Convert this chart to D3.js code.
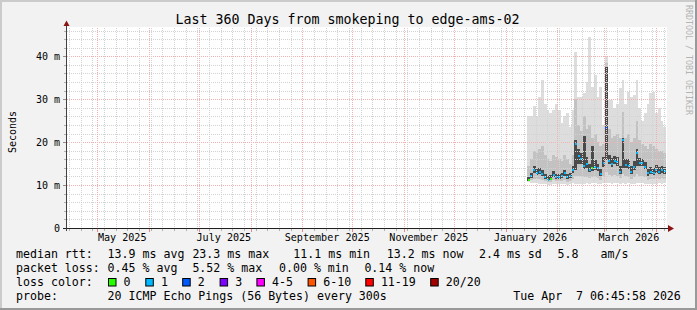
<!DOCTYPE html>
<html>
<head>
<meta charset="utf-8">
<script src="https://cdn.jsdelivr.net/npm/d3@7"></script>
<style>
  body { margin: 0; background: #fff; }
  svg { display: block; }
  text { font-family: 'DejaVu Sans Mono', monospace; fill: #000; white-space: pre; }
</style>
</head>
<body>
<div id="chart"></div>
<script>
// values (ms), one entry per 40h step starting 14 Jan 2026
const seriesStart = Date.UTC(2026, 0, 14, 0, 0, 0)
const stepHours = 40

const median = [11.1, 12.0, 13.5, 12.9, 13.1, 12.6, 11.8, 11.3, 11.5, 12.4, 11.8, 11.8, 12.1, 12.7, 11.8, 12.0, 13.4, 19.6, 16.8, 16.0, 14.5, 14.8, 13.5, 14.0, 14.3, 13.9, 12.6, 15.2, 23.3, 15.7, 14.9, 15.7, 15.3, 13.1, 20.4, 14.6, 14.5, 13.1, 14.2, 17.4, 15.1, 15.1, 14.3, 12.7, 13.1, 12.9, 13.5, 13.1, 13.5, 13.2]
const lossPct = [0, 0.3, 0.4, 0.2, 0.5, 0.3, 0.2, 0.3, 0, 0.2, 0.4, 0.3, 0.2, 0.3, 0.2, 0.4, 0.6, 1.8, 0.9, 0.5, 0.7, 0.4, 0.3, 0, 0.3, 0.2, 0.3, 0.5, 5.52, 0.6, 0.4, 0.3, 0.5, 0.2, 1.2, 0.4, 0.3, 0.2, 0.4, 0.9, 0.5, 0.3, 0.3, 0.2, 0.3, 0.4, 0.2, 0.3, 0.2, 0.14]
const pingMin = [10.8, 10.6, 10.5, 10.4, 10.3, 10.3, 10.2, 10.1, 10.1, 10.2, 10.3, 10.2, 10.2, 10.3, 10.1, 10.2, 10.4, 10.3, 10.2, 10.3, 10.2, 10.4, 10.3, 10.5, 10.4, 10.3, 10.2, 10.4, 10.5, 10.4, 10.3, 10.4, 10.5, 10.3, 10.4, 10.3, 10.4, 10.2, 10.3, 10.4, 10.5, 10.4, 10.3, 10.2, 10.3, 10.2, 10.3, 10.4, 10.3, 10.4]
const pingP10 = [10.9, 11.2, 11.5, 11.4, 11.5, 11.2, 10.9, 10.7, 10.8, 11.1, 10.9, 10.9, 11.0, 11.2, 10.8, 10.9, 11.4, 12.0, 12.2, 12.0, 11.8, 11.9, 11.6, 11.8, 11.8, 11.6, 11.2, 12.0, 13.0, 12.4, 12.0, 12.4, 12.2, 11.6, 12.5, 12.0, 11.9, 11.4, 11.9, 12.5, 12.2, 12.2, 11.8, 11.3, 11.5, 11.4, 11.7, 11.5, 11.7, 11.5]
const pingP30 = [11.0, 11.6, 12.9, 12.4, 12.6, 12.1, 11.4, 10.9, 11.1, 11.9, 11.4, 11.4, 11.7, 12.2, 11.4, 11.6, 12.8, 13.5, 15.0, 14.8, 13.8, 14.0, 13.0, 13.3, 13.6, 13.3, 12.1, 14.2, 15.8, 14.8, 14.2, 14.8, 14.5, 12.6, 14.0, 13.9, 13.8, 12.6, 13.6, 14.5, 14.4, 14.4, 13.7, 12.2, 12.6, 12.4, 12.9, 12.6, 12.9, 12.6]
const pingP70 = [11.8, 12.8, 14.5, 13.8, 14.0, 13.6, 12.6, 12.2, 12.3, 13.3, 12.6, 12.6, 12.9, 13.6, 12.6, 12.8, 14.5, 20.5, 18.5, 17.5, 21.4, 16.5, 15.0, 19.0, 15.8, 15.0, 13.8, 16.5, 37.5, 17.0, 16.2, 16.8, 16.5, 14.5, 21.0, 16.0, 16.0, 14.5, 15.5, 18.5, 16.2, 16.0, 15.3, 13.8, 14.2, 14.0, 14.6, 14.2, 14.5, 14.1]
const pingP90 = [14.5, 16.0, 18.0, 17.5, 18.5, 19.0, 17.0, 16.0, 15.5, 17.0, 16.5, 16.0, 15.5, 17.0, 16.0, 15.0, 17.0, 30.0, 24.0, 22.5, 26.0, 23.0, 24.0, 21.0, 22.0, 20.0, 19.0, 19.5, 38.5, 23.0, 21.0, 21.5, 22.0, 21.0, 27.0, 21.0, 22.0, 20.0, 21.0, 25.0, 20.5, 19.5, 19.0, 18.5, 19.5, 19.0, 18.5, 18.0, 18.0, 17.5]
const pingMax = [26.0, 26.0, 28.5, 26.0, 30.6, 34.5, 29.0, 27.5, 26.8, 27.5, 29.0, 27.5, 24.5, 26.0, 26.8, 23.6, 27.5, 41.1, 30.6, 30.6, 31.5, 34.1, 44.6, 32.9, 35.7, 30.6, 32.9, 24.0, 40.0, 29.8, 29.8, 28.0, 29.0, 32.6, 34.5, 29.0, 31.8, 30.6, 31.0, 34.5, 28.0, 25.0, 26.8, 29.0, 31.5, 31.8, 26.8, 28.0, 25.0, 23.6]

const yTicks = [0, 10, 20, 30, 40]
const yTickLabels = ['0', '10 m', '20 m', '30 m', '40 m']

const lossLabels = ['0', '1', '2', '3', '4-5', '6-10', '11-19', '20/20']
const lossUpper = [0, 1, 2, 3, 5, 10, 19, 20] // lost pings out of 20
const lossColors = ['#26ff00', '#00b8ff', '#0059ff', '#7e00ff', '#ff00ff', '#ff5500', '#ff0000', '#a10000']

const W = 697
const H = 310

const svg = d3
  .select('#chart')
  .append('svg')
  .attr('width', W)
  .attr('height', H)

// frame
svg.append('rect').attr('width', W).attr('height', H).attr('fill', '#f2f2f2')
svg.append('path').attr('d', `M0,0H${W}V2H2V${H}H0Z`).attr('fill', '#cbcbcb')
svg.append('path').attr('d', `M${W},${H}H0V${H - 2}H${W - 2}V0H${W}Z`).attr('fill', '#999999')

const tStart = new Date(Date.UTC(2025, 3, 12, 6, 45, 58))
const tEnd = new Date(Date.UTC(2026, 3, 7, 6, 45, 58))

const xPositionScale = d3.scaleUtc().domain([tStart, tEnd]).range([66, 666])
const yPositionScale = d3.scaleLinear().domain([0, 46.6]).range([228, 28])

// canvas
svg.append('rect')
  .attr('x', 66).attr('y', 27)
  .attr('width', 601).attr('height', 201)
  .attr('fill', '#ffffff')

const plot = svg.append('g')

// smoke
const points = median.map((m, i) => ({
  t0: new Date(seriesStart + i * stepHours * 3600e3),
  t1: new Date(seriesStart + (i + 1) * stepHours * 3600e3),
  med: m,
  loss: lossPct[i],
  bands: [
    [pingMin[i], pingMax[i], '#dddddd'],
    [pingP10[i], pingP90[i], '#c2c2c2'],
    [pingP30[i], pingP70[i], '#4a4a4a']
  ]
}))

points.forEach(function(d) {
  const x0 = xPositionScale(d.t0)
  const x1 = Math.min(xPositionScale(d.t1), 666)
  d.bands.forEach(function(b) {
    plot.append('rect')
      .attr('x', x0)
      .attr('width', x1 - x0)
      .attr('y', yPositionScale(b[1]))
      .attr('height', yPositionScale(b[0]) - yPositionScale(b[1]))
      .attr('fill', b[2])
      .attr('shape-rendering', 'crispEdges')
  })
})

function lossColor(pct) {
  const pings = pct / 100 * 20
  for (let k = 0; k < lossUpper.length; k++) {
    if (pings <= lossUpper[k]) return lossColors[k]
  }
  return lossColors[lossColors.length - 1]
}

plot.selectAll('.med')
  .data(points)
  .enter()
  .append('rect')
  .attr('class', 'med')
  .attr('x', d => Math.round((xPositionScale(d.t0) + xPositionScale(d.t1)) / 2) - 1)
  .attr('width', 2)
  .attr('y', d => Math.round(yPositionScale(d.med)) - 1)
  .attr('height', 2)
  .attr('fill', d => lossColor(d.loss))
  .attr('shape-rendering', 'crispEdges')

// grid (drawn over the data like rrdtool)
const grid = svg.append('g').attr('shape-rendering', 'crispEdges')
const minorCol = '#d2d2d2'
const majorCol = '#f3b0b0'
const minorY = d3.range(2, 47, 2).filter(v => v % 10 !== 0)
minorY.forEach(function(v) {
  const yy = Math.round(yPositionScale(v)) + 0.5
  grid.append('line').attr('x1', 67).attr('x2', 666).attr('y1', yy).attr('y2', yy)
    .attr('stroke', minorCol).attr('stroke-dasharray', '1,1')
  grid.append('line').attr('x1', 64).attr('x2', 66).attr('y1', yy).attr('y2', yy)
    .attr('stroke', '#b0b0b0')
})
yTicks.slice(1).forEach(function(v) {
  const yy = Math.round(yPositionScale(v)) + 0.5
  grid.append('line').attr('x1', 67).attr('x2', 666).attr('y1', yy).attr('y2', yy)
    .attr('stroke', majorCol).attr('stroke-dasharray', '1,1')
  grid.append('line').attr('x1', 63).attr('x2', 66).attr('y1', yy).attr('y2', yy)
    .attr('stroke', '#909090')
})

const weeks = d3.utcMonday.range(tStart, tEnd)
weeks.forEach(function(t) {
  const xx = Math.round(xPositionScale(t)) + 0.5
  grid.append('line').attr('x1', xx).attr('x2', xx).attr('y1', 28).attr('y2', 228)
    .attr('stroke', minorCol).attr('stroke-dasharray', '1,1')
  grid.append('line').attr('x1', xx).attr('x2', xx).attr('y1', 229).attr('y2', 231)
    .attr('stroke', '#b0b0b0')
})
const months = d3.utcMonth.range(tStart, tEnd)
months.forEach(function(t) {
  const xx = Math.round(xPositionScale(t)) + 0.5
  grid.append('line').attr('x1', xx).attr('x2', xx).attr('y1', 28).attr('y2', 228)
    .attr('stroke', majorCol).attr('stroke-dasharray', '1,1')
  grid.append('line').attr('x1', xx).attr('x2', xx).attr('y1', 229).attr('y2', 232)
    .attr('stroke', '#e08a8a')
})

// axes
svg.append('line').attr('x1', 63).attr('x2', 668).attr('y1', 228.5).attr('y2', 228.5)
  .attr('stroke', '#202020')
svg.append('line').attr('x1', 66.5).attr('x2', 66.5).attr('y1', 25).attr('y2', 231)
  .attr('stroke', '#404040')
svg.append('path').attr('d', 'M63.5,26L69.5,26L66.5,20.5Z').attr('fill', '#8b1414')
svg.append('path').attr('d', 'M668,225L668,232L674,228.5Z').attr('fill', '#8b1414')

// y labels
svg.selectAll('.ylab')
  .data(yTicks)
  .enter()
  .append('text')
  .attr('class', 'ylab')
  .attr('x', 60)
  .attr('y', d => yPositionScale(d) + 3.6)
  .attr('text-anchor', 'end')
  .attr('font-size', 10)
  .text((d, i) => yTickLabels[i])

// x labels, centred half a month after the month start
const labelMonths = d3.utcMonth.every(2).range(tStart, tEnd)
svg.selectAll('.xlab')
  .data(labelMonths)
  .enter()
  .append('text')
  .attr('class', 'xlab')
  .attr('x', d => xPositionScale(new Date(+d + 15 * 86400e3)))
  .attr('y', 241)
  .attr('text-anchor', 'middle')
  .attr('font-size', 10.1)
  .text(d => d3.utcFormat('%B %Y')(d))

// title, axis title, watermark
svg.append('text')
  .attr('x', 347.5).attr('y', 24)
  .attr('text-anchor', 'middle')
  .attr('font-size', 13.3)
  .text('Last 360 Days from smokeping to edge-ams-02')

svg.append('text')
  .attr('transform', 'translate(15.5,132) rotate(-90)')
  .attr('text-anchor', 'middle')
  .attr('font-size', 10)
  .text('Seconds')

svg.append('text')
  .attr('transform', 'translate(686,5) rotate(90)')
  .attr('font-size', 8.3)
  .style('fill', '#b4b4b4')
  .text('RRDTOOL / TOBI OETIKER')

// legend
const legendRows = [
  [[16, 'median rtt:'], [107.6, '13.9 ms avg'], [192.4, '23.3 ms max'], [293.3, '11.1 ms min'],
    [386.7, '13.2 ms now'], [479, '2.4 ms sd'], [557.5, '5.8'], [600.5, 'am/s']],
  [[16, 'packet loss:'], [107.6, '0.45 % avg'], [192.4, '5.52 % max'], [279, '0.00 % min'], [364.4, '0.14 % now']],
  [[16, 'loss color:']],
  [[16, 'probe:'], [107.6, '20 ICMP Echo Pings (56 Bytes) every 300s'], [513.3, 'Tue Apr  7 06:45:58 2026']]
]
legendRows.forEach(function(row, r) {
  row.forEach(function(item) {
    svg.append('text')
      .attr('x', item[0])
      .attr('y', 258 + r * 14)
      .attr('font-size', 11.6)
      .text(item[1])
  })
})

const swatchX = [108, 145.3, 182.2, 219.6, 256.4, 307.6, 365.3, 430.2]
lossLabels.forEach(function(lab, k) {
  svg.append('rect')
    .attr('x', swatchX[k] + 0.5).attr('y', 278.5)
    .attr('width', 7.5).attr('height', 7.5)
    .attr('fill', lossColors[k])
    .attr('stroke', '#000')
  svg.append('text')
    .attr('x', swatchX[k] + 15.6)
    .attr('y', 286)
    .attr('font-size', 11.6)
    .text(lab)
})
</script>
</body>
</html>
